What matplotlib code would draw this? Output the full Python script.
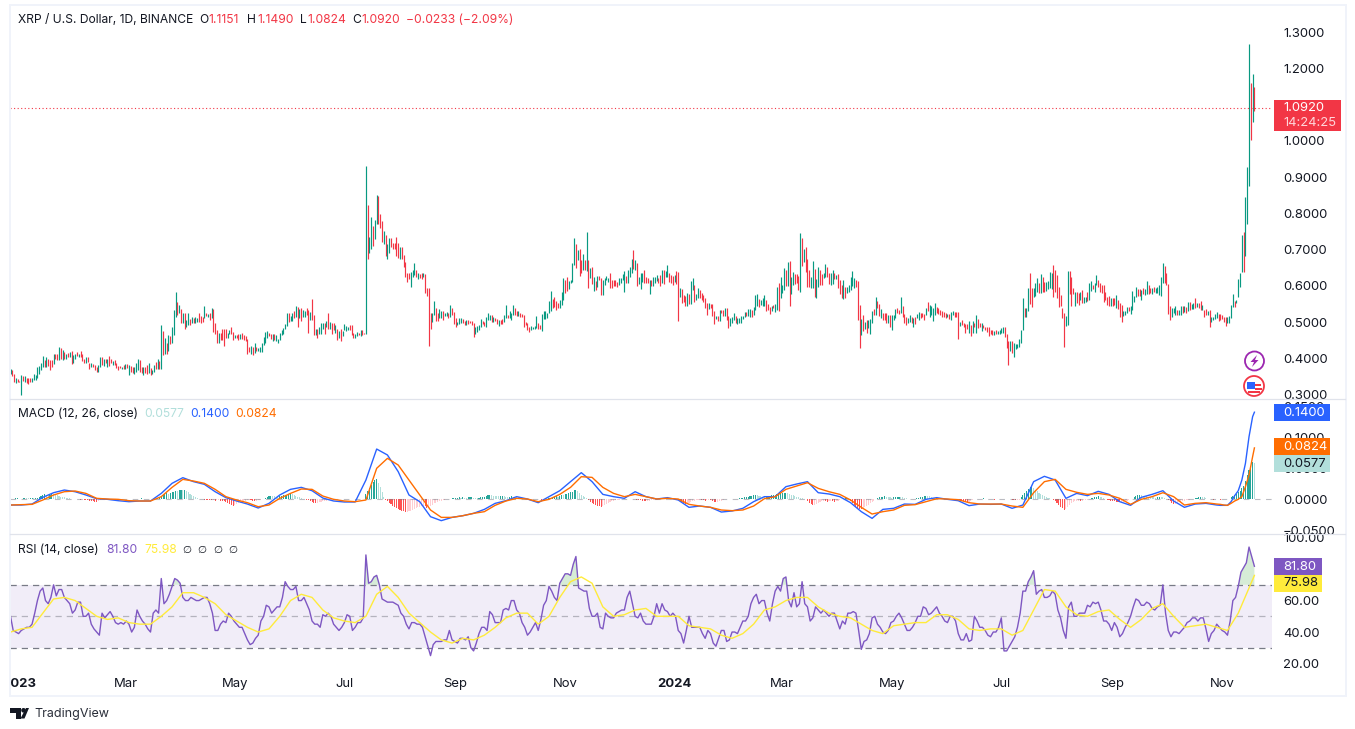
import numpy as np
import matplotlib
matplotlib.use("Agg")
import matplotlib.pyplot as plt
from matplotlib.patches import Rectangle, Circle, Polygon
from matplotlib.transforms import Bbox

plt.rcParams['font.family'] = ['Inter', 'DejaVu Sans']

W, H = 1355, 729

# daily XRP bars, in thousandths of a dollar
price_high = [
    370,367,356,344,343,338,353,351,351,346,345,345,345,356,353,376,378,386,406,395,
    402,397,395,395,411,413,413,431,427,422,417,413,415,418,420,409,411,418,411,420,
    411,399,404,404,388,386,384,381,376,381,402,402,397,397,399,406,399,393,395,386,
    378,378,376,381,383,383,381,378,376,375,386,399,395,376,375,376,381,386,372,367,
    381,390,399,393,491,475,456,443,464,461,487,533,583,555,547,536,526,526,505,524,
    509,514,510,514,510,526,517,514,544,524,522,524,538,536,498,478,470,470,482,482,
    480,470,479,485,473,464,464,467,468,470,463,461,454,432,433,432,443,430,427,430,
    443,459,473,475,470,468,467,467,464,453,470,478,484,494,526,526,517,524,531,544,
    542,535,538,533,531,538,533,527,563,519,482,482,487,498,498,496,503,525,501,496,
    496,491,482,475,482,475,494,489,487,491,491,470,468,473,470,478,478,470,931,823,
    734,791,765,782,851,848,798,780,751,740,715,731,732,719,717,734,717,708,706,685,
    666,634,636,639,645,662,643,636,632,636,634,632,593,595,524,524,558,539,524,536,
    530,530,526,527,524,
    547,540,528,512,501,510,512,507,503,505,505,504,503,498,487,490,492,508,503,499,
    515,524,519,519,513,510,508,505,505,507,519,547,519,530,524,547,538,530,530,524,
    522,519,501,498,487,489,485,489,516,498,492,522,530,530,524,558,586,563,569,559,
    552,561,584,621,616,623,614,616,664,733,715,699,703,671,688,671,749,671,648,653,
    625,613,628,628,621,616,621,627,621,634,616,616,616,611,621,621,633,642,627,644,
    653,673,699,671,664,623,636,634,644,623,621,616,616,623,623,630,621,630,645,645,
    642,657,634,629,627,630,642,638,593,590,574,572,579,576,613,621,602,577,593,588,
    581,575,566,553,553,551,549,530,517,516,533,533,533,538,540,516,510,513,525,516,
    512,512,516,516,528,528,535,535,533,542,574,577,563,561,565,574,561,550,542,545,
    547,550,596,607,623,602,649,644,666,668,623,638,633,633,627,747,733,701,708,674,
    645,623,669,646,619,653,644,633,634,660,651,634,634,644,634,631,633,616,602,616,
    596,596,602,623,642,621,616,614,547,508,519,501,505,505,508,530,536,569,558,551,
    536,524,526,524,519,519,519,519,536,540,533,
    568,544,522,515,510,519,515,510,515,522,529,524,526,522,538,555,547,543,540,552,
    541,538,533,530,529,524,521,522,529,531,529,529,527,501,506,498,495,495,503,492,
    503,498,519,508,498,496,492,487,485,485,478,478,476,478,475,478,483,487,485,467,
    448,448,448,441,439,439,452,478,566,539,540,593,636,593,593,607,622,607,632,625,
    610,610,613,639,636,658,644,630,598,575,538,526,517,641,
    641,625,593,584,584,579,582,589,570,568,584,609,613,602,609,630,616,607,602,601,
    584,570,572,566,566,566,575,561,552,546,531,531,541,541,543,587,573,598,590,590,
    589,593,590,612,602,593,593,598,593,598,602,625,662,655,635,605,
    544,538,538,544,533,533,544,544,543,541,554,554,550,552,567,552,552,558,547,533,
    535,531,533,515,515,522,529,521,521,519,515,513,515,517,547,578,559,561,618,635,740,
    748,846,929,1268,1161,1185,1149,
]
price_low = [
    356,351,334,332,334,335,298,338,335,332,329,335,335,339,341,346,356,367,376,376,
    376,378,367,376,384,397,395,395,397,395,399,397,402,402,385,387,399,406,404,404,
    393,386,386,390,371,376,375,367,362,363,376,381,378,386,376,378,386,381,381,372,
    367,372,371,371,369,372,353,363,360,356,363,367,363,360,353,358,356,358,353,356,
    363,369,371,370,370,409,411,413,420,439,441,464,514,519,524,498,496,480,485,491,
    491,496,498,496,501,501,498,501,510,516,514,505,510,473,468,441,443,450,450,434,
    455,455,467,467,450,455,455,450,454,452,450,448,413,418,411,409,415,420,420,418,
    418,436,441,455,461,452,447,450,448,443,450,464,467,482,489,501,503,503,510,514,
    487,510,503,514,514,519,471,505,505,464,464,455,468,468,480,468,485,482,482,468,
    478,470,450,455,447,462,478,476,478,478,464,457,455,462,464,462,464,466,467,675,
    691,701,710,729,771,771,759,722,715,682,675,691,708,701,703,682,676,673,673,653,
    625,611,618,597,625,630,625,620,622,620,623,579,573,433,480,501,519,503,503,510,
    512,505,516,516,512,
    513,519,494,486,492,494,496,496,492,493,494,498,492,459,467,473,478,485,494,489,
    486,505,505,500,501,504,494,489,494,494,501,512,510,512,505,519,519,516,516,515,
    515,486,492,478,472,478,480,482,484,482,482,476,507,507,510,524,531,540,542,533,
    538,540,546,561,581,586,592,609,611,658,650,671,628,636,645,645,642,595,621,604,
    586,588,598,616,575,575,602,616,611,595,595,599,599,598,601,607,616,584,609,609,
    623,634,646,644,599,605,592,611,609,607,607,577,599,599,607,613,607,599,607,604,
    623,623,611,607,603,610,605,504,568,553,556,544,544,550,550,588,556,561,565,565,
    561,556,540,519,536,540,516,494,507,504,504,524,516,516,505,484,489,498,505,498,
    494,498,498,507,515,516,516,515,515,519,532,544,542,546,544,544,530,533,522,530,
    540,528,533,530,566,579,588,599,599,544,577,602,604,609,588,582,656,667,639,598,
    596,593,593,570,567,598,602,602,621,623,625,604,602,605,618,618,593,577,565,563,
    565,581,584,588,599,593,596,505,428,464,476,480,471,483,467,496,519,519,540,516,
    512,505,505,498,498,487,478,505,512,524,522,
    524,515,496,492,496,501,498,487,495,510,506,510,513,506,519,531,515,519,503,519,
    524,522,519,515,513,510,513,507,506,519,513,515,453,489,491,487,471,480,469,460,
    471,485,471,483,485,476,483,478,473,461,467,464,464,467,467,467,469,471,458,429,
    380,420,415,402,425,427,432,443,478,513,515,531,550,541,568,572,582,581,579,584,
    584,587,590,593,590,568,584,566,541,543,510,432,489,492,
    578,543,578,545,552,547,561,552,552,556,558,561,587,590,584,602,596,584,579,555,
    561,547,543,544,544,547,538,535,515,500,517,519,524,531,522,533,554,568,572,572,
    561,578,575,578,578,579,578,584,581,579,575,572,609,609,602,522,
    506,515,524,519,519,519,519,524,529,526,531,533,535,535,538,541,538,533,533,515,
    519,519,487,501,506,507,510,504,506,507,501,489,496,498,512,541,541,552,568,598,639,
    639,683,772,876,1004,1053,1082,
]
# g = closed up, r = closed down
candle_dir = (
    "grrgrrgrgrrrgggggggr" "grrrgrrgrgrgrgrggrgr" "rrgrrgrrrggrgrgrrgrr" "rrgrgrgrrgggrrgrrgrg"
    "grgrgrgrgrgggrgrgrgg" "rgrggrrrgrgrgrrrgrrr" "rggrrgrrgrrrrrgrgrgg" "ggggrrgrgggggggrggrg"
    "rgrggrrgrrgrgggrgrgr" "rgrgrggggrrrggrgrrgr" "ggrggrrrgrggrrrrrgrr" "rrrgggrgrrgrrrrggrrg"
    "grggr"
    "grrrgggrrgrrrrggggrr" "gggrgrrgrrggrgggrrgr" "rrrrrggggrrggggggrrr" "rgggrrggggrgrrgrgrgr"
    "grgrrggggrrrrrggggrg" "ggrgrgggrrrgrgggrrgr" "ggrrrgrrgrrrgrggrggr" "rrrrgrrrgrgrrgrrgggr"
    "gggggrggrgggrgggrrrg" "rggrgggrgrggrrrgrgrr" "rggrggrrggrrggrgrrrg" "rgggggrrrgrgrgggrgrr"
    "grrrgrgggrr"
    "grrrggrgrggrrrgrgggg" "rrrrrrgrggrrrgrrrrgr" "grgrrgrrrrrrgrggggrr" "rgrggggggrggrrgggrgr"
    "rggggrrrrrrrgg"
    "rrrgr" "rgrgg" "rggrg" "grrrr" "rrrgr" "rgrrr" "gggrg" "gggrr" "grggr" "rgrgg" "gggrr" "r"
    "rgggrggrgr" "grggrgrrgr" "rgrggggrrr" "rrggggrggg" "g"
    "rgggrgr"
)

# MACD in 1/10000, one reading every 6 days then denser at the end
macd_days = list(range(0, 673, 6)) + list(range(674, 693, 2)) + [693]
macd_line = [
    -97,-97,-81,27,102,145,118,65,5,-5,
    -27,-43,-32,-32,91,253,344,280,237,118,
    22,-32,-81,-145,-70,65,156,188,134,16,
    -32,-48,-48,306,806,710,441,65,-43,-285,
    -349,-296,-269,-231,-167,-70,-27,38,0,-59,
    38,134,280,425,280,75,38,11,118,38,
    0,22,-16,-134,-113,-134,-210,-193,-150,-43,
    38,38,199,242,280,102,81,38,-59,-204,
    -312,-167,-150,-81,-86,-5,22,-5,-27,-107,
    -81,-86,-81,-150,-97,280,366,306,11,91,
    54,124,75,-43,-102,27,75,134,-32,-134,
    -81,-70,-97,
    -102,-102,-102,-43,54,134,306,575,1005,1328,1400,
]
signal_line = [
    -97,-91,-86,-16,65,118,129,91,11,0,
    -5,-27,-32,-32,38,188,317,290,253,156,
    38,-16,-59,-124,-97,11,91,161,156,48,
    -5,-32,-43,-16,495,656,548,306,65,-177,
    -296,-296,-269,-231,-204,-102,-32,11,0,-43,
    -5,75,188,360,349,188,91,38,75,38,
    0,11,0,-86,-113,-134,-177,-188,-177,-113,
    5,38,156,210,263,172,118,75,-16,-134,
    -242,-204,-177,-102,-91,-43,5,0,-11,-59,
    -81,-81,-81,-113,-134,102,280,317,156,108,
    75,91,65,11,-86,-5,38,102,38,-97,
    -70,-59,-81,
    -86,-97,-102,-70,-32,-5,38,199,387,683,824,
]
# histogram, one bar a day, 1/10000
macd_hist = [
    6,8,5,10,12,8,6,10,14,11,9,13,16,12,14,20,
    35,52,64,78,70,60,72,80,74,66,58,50,40,32,26,
    20,16,12,8,6,3,1,
    -4,-8,-6,-12,-16,-20,-25,-32,-40,-52,-55,-40,-18,
    -4,2,6,4,-3,3,6,2,-3,-5,3,6,8,4,-4,2,5,3,-2,-4,3,6,9,6,2,-3,3,5,8,6,4,10,14,
    40,60,75,90,80,95,110,120,130,125,140,150,148,150,130,110,85,
    62,44,30,16,8,2,
    -5,-10,-14,-16,-20,-22,-18,-25,-22,-18,-24,-28,-30,-45,
    -62,-80,-95,-107,-100,-85,-70,-58,-44,-36,
    -28,-22,-18,-22,-26,-28,-24,-18,-10,-4,4,
    20,34,48,56,50,44,40,36,44,52,60,66,72,78,80,76,
    62,48,36,26,16,8,
    -4,-12,-22,-34,-46,-58,-65,-62,-54,-46,-40,-30,-24,-18,-12,-8,-4,
    -3,2,5,3,-2,-5,-3,2,4,3,-2,-4,-2,2,3,-2,-3,
    80,135,180,220,270,300,322,260,190,110,30,
    -18,-40,-62,-86,-108,-130,-150,-165,-180,-190,-196,-204,-204,-200,
    -190,-175,-160,-150,-135,-128,-120,-105,-115,-150,-130,-110,-90,-72,
    -58,-45,-35,-26,-18,-12,-6,-2,
    8,12,16,18,22,26,24,28,24,22,26,28,30,24,20,16,22,26,30,34,
    50,62,65,58,52,
    48,45,42,46,50,44,40,36,38,42,40,36,30,28,24,20,16,12,8,
    4,-2,-4,2,5,-3,-6,-8,-4,3,6,10,
    14,22,36,48,40,56,68,62,74,84,100,110,120,138,150,
    128,100,72,50,28,12,
    -20,-48,-70,-85,-98,-105,-110,-125,
    -110,-92,-76,-60,-48,-38,-30,-22,-16,-10,-6,-3,
    -3,2,5,8,6,2,-4,-10,-16,-22,-28,-36,-40,-34,-24,-14,-8,-3,2,5,4,2,-2,-3,2,4,3,-2,2,3,
    -8,-24,-48,-66,-80,-76,-64,-48,-34,-26,-18,-14,-12,-16,-20,-24,-18,-14,-22,-34,-44,-52,-48,-36,
    -24,-12,-6,-3,2,4,6,3,-2,3,
    12,18,24,30,36,40,46,54,60,65,60,52,44,38,34,
    40,48,54,60,66,72,78,84,90,96,100,102,
    94,80,68,58,48,38,28,20,12,6,2,
    -30,-62,-88,-97,-92,-78,-60,-46,
    -40,-36,-38,-42,-40,-36,-38,-44,-40,-30,-18,
    -4,6,14,18,8,
    -30,-70,-104,-128,-150,-158,-161,-150,-130,-112,-90,-70,-52,-30,
    8,16,26,34,40,43,38,32,28,22,26,32,36,40,34,26,18,12,8,4,
    2,3,6,12,20,28,38,46,54,48,42,32,24,20,24,
    14,8,4,2,-2,-3,-6,-4,-3,-2,-4,-6,-10,
    -22,-34,-46,-54,-50,-38,-20,
    -6,-3,2,4,8,10,6,3,-2,-4,-6,-8,-6,-4,-2,2,4,6,5,2,-4,-8,-12,-18,-14,-8,
    30,62,96,130,160,190,204,
    176,150,126,102,84,62,44,30,18,10,4,
    -8,-30,-64,-96,-128,-150,-172,-165,
    -130,-96,-68,-48,-36,-28,-24,-30,-24,-18,-12,-8,-3,
    10,18,26,36,43,38,28,14,
    4,-8,-18,-26,-32,-38,-44,-50,-54,-54,-48,-36,-24,-12,-4,3,
    30,48,58,65,62,54,48,44,38,34,30,28,24,30,36,34,26,16,6,
    -18,-40,-62,-80,-76,-64,-50,-42,-34,-26,-20,-14,-8,-3,
    8,16,24,30,38,34,26,14,
    4,-2,-5,-8,-6,-3,-5,-8,-6,-4,-3,-2,3,
    30,50,65,85,110,134,170,215,290,380,470,540,600,577,
]

# RSI read every 3 days, with a second set of readings half way between them
rsi_days = list(range(0, 694, 3))
rsi_values = [
    50,40,41,43,45,60,68,58,70,67,
    62,58,54,59,50,45,40,52,51,50,
    45,45,45,43,50,45,40,54,74,60,
    69,73,62,60,61,60,62,58,41,45,
    46,50,45,43,35,33,38,50,56,54,
    56,72,67,69,60,58,47,45,51,52,
    45,41,46,50,43,46,89,72,76,61,
    59,59,57,50,42,46,45,37,25,34,
    34,35,35,33,36,37,28,39,43,53,
    46,46,55,60,54,46,38,43,41,57,
    69,62,71,77,76,88,67,66,50,52,
    42,50,49,53,54,66,50,52,45,45,
    58,58,53,52,41,33,50,43,43,36,
    39,31,41,34,40,39,47,50,62,58,
    60,47,66,66,75,56,56,72,56,49,
    54,54,50,52,42,45,52,52,29,35,
    49,45,40,41,47,52,45,41,46,50,
    55,52,56,50,46,50,39,35,34,50,
    43,41,37,40,49,28,34,43,66,72,
    79,66,62,63,64,49,36,59,50,52,
    57,59,59,47,45,46,37,43,50,61,
    57,59,55,56,70,41,40,39,43,47,
    49,49,42,39,45,41,38,60,69,81,
    94,81.8,
]
rsi_mid_days = [d + 1.5 for d in rsi_days[:-1]]
rsi_mid_values = [
    41,39,42,43,52,66,60,62,63,67,
    60,52,59,50,52,42,38,49,53,46,
    46,47,40,54,47,42,52,52,58,64,
    74,71,60,62,60,61,62,52,41,47,
    52,47,43,39,32,36,47,57,52,56,
    62,69,67,60,62,54,45,43,50,50,
    43,43,51,41,46,49,71,75,70,60,
    59,58,52,45,46,45,43,31,32,34,
    35,41,34,36,35,30,33,43,41,51,
    46,54,54,60,52,43,40,46,48,60,
    66,60,74,77,83,68,66,55,50,43,
    52,49,52,54,62,58,49,47,45,50,
    52,54,50,50,39,41,43,43,39,41,
    33,36,41,35,40,43,47,58,64,60,
    52,58,69,74,60,65,58,58,47,56,
    52,52,52,47,47,52,53,41,34,39,
    50,43,39,46,50,49,41,43,50,56,
    51,54,52,47,50,47,35,39,35,47,
    43,38,40,43,28,31,37,52,66,75,
    64,67,62,66,54,41,56,50,52,52,
    56,58,54,47,41,43,39,46,56,60,
    57,58,54,57,52,37,40,41,46,49,
    47,49,34,41,43,40,47,62,78,84,88,
]
rsi_ma_days = list(range(0, 691, 6)) + [693]
rsi_ma_values = [
    40,42,43,52,61,62,60,55,50,48,
    49,46,45,45,50,56,65,65,62,58,
    51,47,43,40,42,50,60,64,62,54,
    49,47,46,50,64,69,62,52,46,40,
    35,33,36,35,38,43,49,52,52,45,
    50,62,72,75,71,56,50,51,54,55,
    50,50,50,44,43,42,38,36,39,45,
    54,56,60,62,62,56,52,50,49,45,
    41,39,44,45,46,46,51,51,48,42,
    41,42,42,38,41,54,67,66,56,51,
    50,53,54,48,43,48,55,58,50,43,
    44,45,43,41,52,68,75.98,
]

month_days = [5, 64, 125, 186, 248, 309, 370, 430, 491, 552, 614, 675]
month_labels = ["2023", "Mar", "May", "Jul", "Sep", "Nov", "2024", "Mar", "May", "Jul", "Sep", "Nov"]
price_ticks = [0.3, 0.4, 0.5, 0.6, 0.7, 0.8, 0.9, 1.0, 1.1, 1.2, 1.3]
macd_ticks = [-0.05, 0.0, 0.05, 0.10, 0.15]
rsi_ticks = [20, 40, 60, 80, 100]
last_close = 1.0920

UP = "#089981"
DOWN = "#F23645"
INK = "#131722"
TICK = "#131722"


def pane(top, bottom):
    # axes placed by pixel rows of the 1355x729 figure
    ax = fig.add_axes([10 / W, 1 - bottom / H, 1262 / W, (bottom - top) / H])
    ax.set_xlim(-0.28, 702.8)
    for s in ax.spines.values():
        s.set_visible(False)
    ax.patch.set_alpha(0)
    ax.yaxis.tick_right()
    ax.tick_params(axis='y', length=0, pad=8, labelsize=9.4, labelcolor=TICK)
    ax.set_xticks([])
    return ax


fig = plt.figure(figsize=(W / 100, H / 100), dpi=100, facecolor='white')

# price pane
ax1 = pane(6, 398)
ax1.set_ylim(0.2901, 1.3729)
days = np.arange(len(price_high))
bar_colors = [UP if d == 'g' else DOWN for d in candle_dir]
ax1.vlines(days, np.array(price_low) / 1000, np.array(price_high) / 1000, colors=bar_colors,
           linewidth=0.85, capstyle='butt')
ax1.axhline(last_close, color=DOWN, lw=0.8, ls=(0, (1, 2.2)))
ax1.set_yticks(price_ticks)
ax1.set_yticklabels(["%.4f" % t for t in price_ticks])

# MACD pane
ax2 = pane(399, 533)
ax2.set_ylim(-0.0548, 0.1613)
hist = np.array(macd_hist) / 10000
hist_colors = []
for i, v in enumerate(hist):
    prev = hist[i - 1] if i > 0 else 0
    if v >= 0:
        hist_colors.append("#26A69A" if v >= prev else "#B2DFDB")
    else:
        hist_colors.append("#FFCDD2" if v >= prev else "#FF5252")
ax2.bar(np.arange(len(hist)), hist, width=0.6, color=hist_colors, linewidth=0)
ax2.axhline(0, color="#787B86", lw=0.8, ls=(0, (5, 5)), alpha=0.5)
ax2.plot(macd_days, np.array(macd_line) / 10000, color="#2962FF", lw=1.0)
ax2.plot(macd_days, np.array(signal_line) / 10000, color="#FF6D00", lw=1.0)
ax2.set_yticks(macd_ticks)
ax2.set_yticklabels(["\u2212%.4f" % abs(t) if t < 0 else "%.4f" % t for t in macd_ticks])

# RSI pane
ax3 = pane(534, 672)
ax3.set_ylim(14.6, 102.3)
ax3.axhspan(30, 70, color="#7E57C2", alpha=0.1, lw=0)
ax3.axhline(70, color="#787B86", lw=0.9, ls=(0, (5, 4)))
ax3.axhline(50, color="#787B86", lw=0.9, ls=(0, (5, 4)), alpha=0.5)
ax3.axhline(30, color="#787B86", lw=0.9, ls=(0, (5, 4)))
order = np.argsort(rsi_days + rsi_mid_days)
rsi_x = np.array(rsi_days + rsi_mid_days)[order]
rsi_y = np.array(rsi_values + rsi_mid_values, dtype=float)[order]
ax3.fill_between(rsi_x, rsi_y, 70, where=rsi_y > 70, interpolate=True, color="#A5D6A7", alpha=0.45, lw=0)
ax3.plot(rsi_x, rsi_y, color="#7E57C2", lw=1.0)
ax3.plot(rsi_ma_days, rsi_ma_values, color="#FFEB3B", lw=1.0)
ax3.set_yticks(rsi_ticks)
ax3.set_yticklabels(["%.2f" % t for t in rsi_ticks])
ax3.set_xticks(month_days)
ax3.set_xticklabels(month_labels)
ax3.tick_params(axis='x', length=0, pad=4, labelsize=9.4, labelcolor=TICK)
for lab in ax3.get_xticklabels():
    if lab.get_text() in ("2023", "2024"):
        lab.set_fontweight('bold')
first_label = ax3.get_xticklabels()[0]
first_label.set_clip_on(True)
first_label.set_clip_box(Bbox([[10, 0], [W, H]]))

# frame, tags, legends and logo in figure pixels
top = fig.add_axes([0, 0, 1, 1], zorder=10)
top.set_xlim(0, W)
top.set_ylim(H, 0)
top.axis('off')
top.patch.set_alpha(0)

frame = "#F0F3FA"
top.add_patch(Rectangle((9, 4), 1337, 2, color=frame, lw=0))
top.add_patch(Rectangle((9, 695), 1337, 2, color=frame, lw=0))
top.add_patch(Rectangle((9, 4), 1.5, 693, color=frame, lw=0))
top.add_patch(Rectangle((1344.5, 4), 2, 693, color=frame, lw=0))
top.plot([10, 1345], [398.5, 398.5], color="#E0E3EB", lw=0.9)
top.plot([10, 1345], [533.5, 533.5], color="#E0E3EB", lw=0.9)


def tag(x0, x1, y0, y1, color, label, label_color="white"):
    top.add_patch(Rectangle((x0, y0), x1 - x0, y1 - y0, color=color, lw=0))
    top.text(1283, (y0 + y1) / 2, label, color=label_color, fontsize=9.4, va='center', ha='left')


top.add_patch(Rectangle((1274, 100), 67, 31, color=DOWN, lw=0))
top.text(1283, 108, "1.0920", color="white", fontsize=9.4, va='center')
top.text(1283, 122.5, "14:24:25", color="#FFD5D9", fontsize=9.4, va='center')
tag(1274, 1330, 404, 421, "#2962FF", "0.1400")
tag(1274, 1330, 438, 455, "#FF6D00", "0.0824")
tag(1274, 1330, 455, 472, "#B2DFDB", "0.0577", INK)
tag(1274, 1322, 558, 575, "#7E57C2", "81.80")
tag(1274, 1322, 575, 592, "#FFEB3B", "75.98", INK)


def legend(y, pieces):
    for x, s, c in pieces:
        top.text(x, y, s, color=c, fontsize=8.7, va='center', ha='left')


legend(20, [(18, "XRP / U.S. Dollar, 1D, BINANCE", INK),
            (199, "O", INK), (208, "1.1151", DOWN),
            (247, "H", INK), (257, "1.1490", DOWN),
            (300, "L", INK), (307, "1.0824", DOWN),
            (352, "C", INK), (361, "1.0920", DOWN),
            (406, "\u22120.0233 (\u22122.09%)", DOWN)])
legend(414, [(18, "MACD (12, 26, close)", INK), (144, "0.0577", "#B2DFDB"),
             (190, "0.1400", "#2962FF"), (235, "0.0824", "#FF6D00")])
legend(550, [(18, "RSI (14, close)", INK), (106, "81.80", "#7E57C2"), (144, "75.98", "#FFEB3B")])
for x in (187, 202, 218, 233):
    top.text(x, 550, "\u2205", color=INK, fontsize=7.5, va='center', ha='center',
             family=['DejaVu Sans'])

# event icons
top.add_patch(Circle((1254.5, 361), 9.5, fc='white', ec="#9C27B0", lw=1.3))
top.add_patch(Polygon([[1257, 355], [1250.5, 362], [1254, 362], [1252, 367], [1258.5, 360], [1255, 360]],
                      closed=True, color="#9C27B0", lw=0))
top.add_patch(Circle((1254, 386), 10, fc='white', ec="#F23645", lw=1.3))
top.add_patch(Rectangle((1247, 382), 8, 7, color="#2962FF", lw=0))
top.add_patch(Rectangle((1255, 384), 6, 2, color="#F23645", lw=0))
top.add_patch(Rectangle((1255, 387.5), 7, 2, color="#F23645", lw=0))
top.add_patch(Rectangle((1248, 391), 12, 1.5, color="#F23645", lw=0))

# TradingView mark
top.add_patch(Polygon([[10, 708], [21, 708], [21, 718.5], [16, 718.5], [16, 713], [10, 713]], closed=True, color=INK, lw=0))
top.add_patch(Circle((23.5, 710.3), 2.3, color=INK, lw=0))
top.add_patch(Polygon([[24.5, 718.5], [29, 708], [26, 708], [20.5, 718.5]], closed=True, color=INK, lw=0))
top.text(34, 714.5, "TradingView", color="#2A2E39", fontsize=9, va='center', ha='left')

fig.savefig("out.png", dpi=100)
